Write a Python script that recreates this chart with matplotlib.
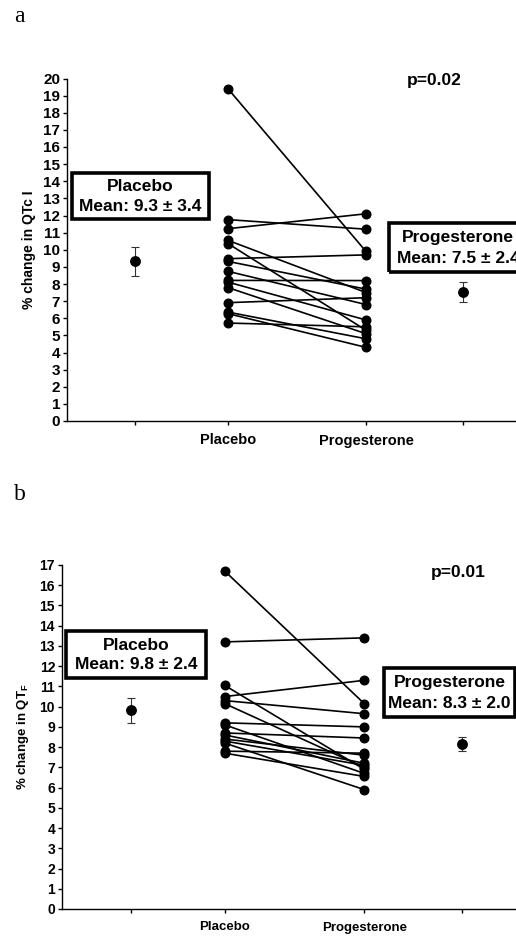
import numpy as np
import matplotlib
matplotlib.use("Agg")
import matplotlib.pyplot as plt
from matplotlib.patches import Rectangle

plt.rcParams['font.family'] = ['Liberation Sans', 'DejaVu Sans']
plt.rcParams['font.weight'] = 'bold'

# panel a: % change in QTc I, paired values per subject
a_placebo = [19.4, 11.76, 11.23, 10.55, 10.36, 9.48, 9.32, 8.74, 8.21, 8.11, 7.79, 6.91, 6.36, 6.27, 5.72]
a_proges = [9.9, 11.2, 12.1, 7.5, 5.3, 9.7, 7.7, 6.8, 8.2, 5.9, 5.1, 7.2, 4.8, 4.3, 5.5]
a_means = [9.32, 7.53]
a_errs = [0.85, 0.58]

# panel b: % change in QTF
b_placebo = [16.7, 13.2, 10.5, 11.05, 10.3, 10.15, 9.2, 9.1, 8.7, 8.6, 8.4, 8.3, 8.2, 7.8, 7.7]
b_proges = [10.15, 13.4, 11.3, 6.9, 9.65, 7.0, 9.0, 6.7, 8.45, 7.2, 7.6, 7.1, 5.9, 7.7, 6.55]
b_means = [9.81, 8.15]
b_errs = [0.63, 0.33]

categories = ['Placebo', 'Progesterone']
x_pos = [0.74, 1.75, 3.25, 4.3]  # placebo mean, placebo, progesterone, progesterone mean

W, H = 516, 939
fig = plt.figure(figsize=(W / 100, H / 100), dpi=100)


def fx(p):
    return p / W


def fy(p):
    return 1 - p / H


def box(x0, y0, x1, y1, lines, fs):
    fig.patches.append(Rectangle((fx(x0), fy(y1)), fx(x1 - x0), (y1 - y0) / H,
                                 transform=fig.transFigure, fill=False,
                                 lw=2.6, ec='black', clip_on=False))
    fig.text(fx((x0 + x1) / 2), fy(y0 + (y1 - y0) * 0.3), lines[0], ha='center',
             va='center', fontsize=fs, fontweight='bold')
    fig.text(fx((x0 + x1) / 2), fy(y0 + (y1 - y0) * 0.72), lines[1], ha='center',
             va='center', fontsize=fs, fontweight='bold')


def panel(ax, pl, pr, means, errs, ymax, fs, xfs):
    for a, b in zip(pl, pr):
        ax.plot([x_pos[1], x_pos[2]], [a, b], color='black', lw=1.2,
                marker='o', ms=6.2, clip_on=False)
    ax.errorbar([x_pos[0], x_pos[3]], means, yerr=errs, fmt='o', color='black',
                ms=6.8, ecolor='#333333', elinewidth=0.8, capsize=3, capthick=0.8,
                clip_on=False)
    ax.set_xlim(0, 5)
    ax.set_ylim(0, ymax)
    ax.set_yticks(range(0, ymax + 1))
    ax.set_xticks(x_pos)
    ax.set_xticklabels(['', categories[0], categories[1], ''])
    for s in ['top', 'right']:
        ax.spines[s].set_visible(False)
    ax.spines['left'].set_linewidth(1.0)
    ax.spines['bottom'].set_linewidth(1.0)
    ax.tick_params(axis='y', direction='out', length=3, width=1.0,
                   labelsize=fs, pad=2)
    ax.tick_params(axis='x', direction='out', length=3, width=1.0,
                   labelsize=xfs, pad=6)
    for t in ax.get_xticklabels() + ax.get_yticklabels():
        t.set_fontweight('bold')


ax1 = fig.add_axes([fx(67), fy(421), fx(460), (421 - 78.5) / H])
panel(ax1, a_placebo, a_proges, a_means, a_errs, 20, 11, 10.5)
ax1.set_ylabel('% change in QTc I', fontsize=10, fontweight='bold', labelpad=5)

ax2 = fig.add_axes([fx(62), fy(909), fx(465), (909 - 565) / H])
panel(ax2, b_placebo, b_proges, b_means, b_errs, 17, 10, 9.5)
ax2.set_ylabel(r'% change in QT$_\mathregular{F}$', fontsize=9.5, fontweight='bold', labelpad=6)

fig.text(fx(14), fy(17), 'a', fontsize=17, family='Liberation Serif',
         fontweight='normal', va='center')
fig.text(fx(14), fy(494), 'b', fontsize=17, family='Liberation Serif',
         fontweight='normal', va='center')

fig.text(fx(434), fy(80), 'p=0.02', fontsize=12.5, ha='center', va='center', fontweight='bold')
fig.text(fx(458), fy(572), 'p=0.01', fontsize=12.5, ha='center', va='center', fontweight='bold')

box(72, 173, 209, 219, ['Placebo', 'Mean: 9.3 ± 3.4'], 12.5)
box(389, 223, 527, 272, ['Progesterone', 'Mean: 7.5 ± 2.4'], 12.5)
box(66, 631, 206, 678, ['Placebo', 'Mean: 9.8 ± 2.4'], 12.5)
box(384, 668, 515, 717, ['Progesterone', 'Mean: 8.3 ± 2.0'], 12.5)

fig.savefig('out.png', dpi=100)
